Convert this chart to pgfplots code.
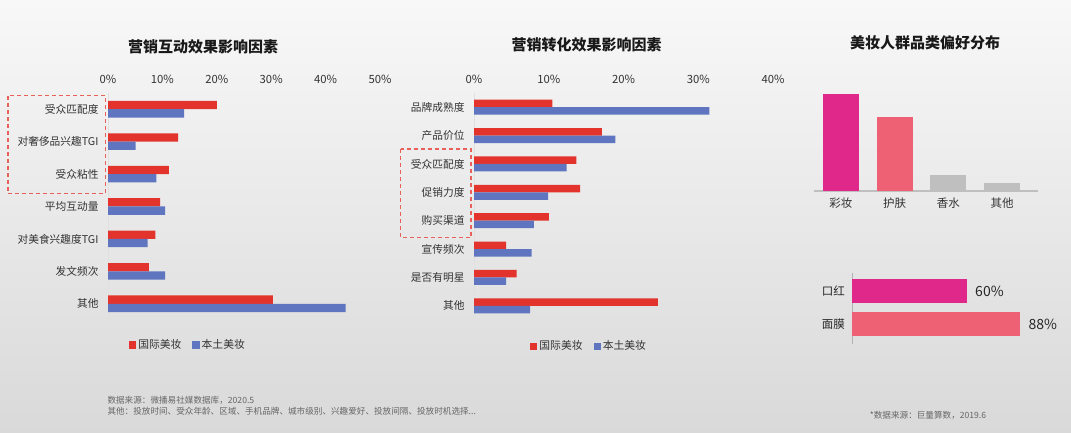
\documentclass[border=0pt]{standalone}
\usepackage{fontspec}
\setmainfont{Noto Sans CJK SC}
\usepackage{pgfplots}
\pgfplotsset{compat=1.18}

\definecolor{cRed}{HTML}{E2342C}
\definecolor{cBlue}{HTML}{5F75BF}
\definecolor{cMag}{HTML}{E0288A}
\definecolor{cPink}{HTML}{EE6074}
\definecolor{cGrey}{HTML}{BFBFBF}
\definecolor{txt}{HTML}{333333}
\definecolor{note}{HTML}{666666}
\definecolor{boxred}{HTML}{E8605A}
\definecolor{bgTop}{HTML}{F8F8F8}
\definecolor{bgBot}{HTML}{D9D9D9}

\pgfplotsset{
  hbars/.style={
    scale only axis, xbar, xmin=0, ymin=0.5,
    y dir=reverse,
    axis x line*=top, axis y line*=left,
    x axis line style={draw=none},
    y axis line style={draw=black!12, line width=0.8pt},
    major tick length=0pt,
    xtick distance=10,
    xticklabel={\pgfmathprintnumber{\tick}\%},
    /pgf/number format/assume math mode=true,
    xticklabel style={font=\fontsize{11.3}{13}\selectfont, text=txt, yshift=6pt},
    yticklabel style={font=\fontsize{10.7}{12}\selectfont, text=txt, xshift=-6pt},
    legend columns=2,
    legend style={draw=none, fill=none, font=\fontsize{10.8}{12}\selectfont, text=txt,
      /tikz/every even column/.append style={column sep=9pt}},
    clip=false,
  },
  redsq/.style={legend image code/.code={\fill[cRed] (0pt,-3.6pt) rectangle (7.2pt,3.6pt);}},
  bluesq/.style={legend image code/.code={\fill[cBlue] (0pt,-3.6pt) rectangle (7.2pt,3.6pt);}},
}

\begin{document}
\begin{tikzpicture}
\shade[top color=bgTop, bottom color=bgBot] (0pt,0pt) rectangle (1071pt,433pt);
\path[use as bounding box] (0pt,0pt) rectangle (1071pt,433pt);

% titles
\node[font=\fontsize{15}{17}\selectfont\bfseries, text=black!90] at (203pt,386.3pt) {营销互动效果影响因素};
\node[font=\fontsize{15}{17}\selectfont\bfseries, text=black!90] at (586.7pt,388pt) {营销转化效果影响因素};
\node[font=\fontsize{15}{17}\selectfont\bfseries, text=black!90] at (925pt,390.3pt) {美妆人群品类偏好分布};

% panel 1
\begin{axis}[hbars, at={(108pt,113pt)}, anchor=south west, width=272pt, height=227pt,
  xmax=50, ymax=7.5, bar width=8.3pt,
  ytick={1,...,7},
  yticklabels={受众匹配度,对奢侈品兴趣TGI,受众粘性,平均互动量,对美食兴趣度TGI,发文频次,其他},
  legend style={at={(0.294,-0.11)}, anchor=center}]
\addplot[fill=cRed, draw=none, bar shift=4.15pt, redsq] coordinates {
  (20.0,1) (12.9,2) (11.2,3) (9.6,4) (8.7,5) (7.5,6) (30.3,7)};
\addlegendentry{国际美妆}
\addplot[fill=cBlue, draw=none, bar shift=-4.15pt, bluesq] coordinates {
  (14.0,1) (5.1,2) (8.9,3) (10.5,4) (7.3,5) (10.5,6) (43.7,7)};
\addlegendentry{本土美妆}
\end{axis}

% panel 2
\begin{axis}[hbars, at={(474pt,113pt)}, anchor=south west, width=299pt, height=227pt,
  xmax=40, ymax=8.5, bar width=7.5pt,
  ytick={1,...,8},
  yticklabels={品牌成熟度,产品价位,受众匹配度,促销力度,购买渠道,宣传频次,是否有明星,其他},
  legend style={at={(0.385,-0.115)}, anchor=center}]
\addplot[fill=cRed, draw=none, bar shift=3.75pt, redsq] coordinates {
  (10.5,1) (17.1,2) (13.7,3) (14.2,4) (10.0,5) (4.3,6) (5.7,7) (24.6,8)};
\addlegendentry{国际美妆}
\addplot[fill=cBlue, draw=none, bar shift=-3.75pt, bluesq] coordinates {
  (31.5,1) (18.9,2) (12.4,3) (9.9,4) (8.0,5) (7.7,6) (4.3,7) (7.5,8)};
\addlegendentry{本土美妆}
\end{axis}

% dashed highlight boxes
\draw[draw=boxred, line width=1.2pt, dash pattern=on 4pt off 3pt] (8pt,337.3pt) rectangle (105.7pt,239.7pt);
\draw[draw=boxred, line width=1.2pt, dash pattern=on 4pt off 3pt] (400.7pt,284pt) rectangle (471pt,195.3pt);

% panel 3
\begin{axis}[scale only axis, at={(814pt,242pt)}, anchor=south west, width=224pt, height=100pt,
  ybar, bar width=36pt, xmin=0.5, xmax=4.67, ymin=0, ymax=100,
  axis x line*=bottom, axis y line=none,
  x axis line style={draw=cGrey, line width=1.2pt},
  major tick length=0pt,
  xtick={1,2,3,4}, xticklabels={彩妆,护肤,香水,其他},
  xticklabel style={font=\fontsize{11.5}{13}\selectfont, text=txt, yshift=-3pt},
  clip=false]
\addplot[fill=cMag, draw=none, bar shift=0pt] coordinates {(1,97)};
\addplot[fill=cPink, draw=none, bar shift=0pt] coordinates {(2,74)};
\addplot[fill=cGrey, draw=none, bar shift=0pt] coordinates {(3,16)};
\addplot[fill=cGrey, draw=none, bar shift=0pt] coordinates {(4,8)};
\end{axis}

% panel 4
\begin{axis}[scale only axis, at={(852.3pt,89pt)}, anchor=south west, width=200pt, height=71pt,
  xbar, bar width=23.3pt, y dir=reverse,
  xmin=0, xmax=104.9, ymin=0.455, ymax=2.606,
  axis y line*=left, axis x line=none,
  y axis line style={draw=black!30, line width=1pt},
  major tick length=0pt,
  ytick={1,2}, yticklabels={口红,面膜},
  yticklabel style={font=\fontsize{11.5}{13}\selectfont, text=black!85, xshift=-4pt},
  /pgf/number format/assume math mode=true,
  point meta=x,
  nodes near coords={\pgfmathprintnumber{\pgfplotspointmeta}\%},
  nodes near coords style={anchor=west, font=\fontsize{14}{16}\selectfont, text=black!85, xshift=5pt},
  clip=false]
\addplot[fill=cMag, draw=none, bar shift=0pt] coordinates {(60,1)};
\addplot[fill=cPink, draw=none, bar shift=0pt] coordinates {(88,2)};
\end{axis}

% source notes
\node[anchor=west, font=\fontsize{8.6}{10}\selectfont, text=note] at (104pt,32.3pt) {数据来源：微播易社媒数据库，2020.5};
\node[anchor=west, font=\fontsize{8.6}{10}\selectfont, text=note] at (104pt,21.3pt) {其他：投放时间、受众年龄、区域、手机品牌、城市级别、兴趣爱好、投放间隔、投放时机选择...};
\node[font=\fontsize{8.6}{10}\selectfont, text=note] at (928pt,18pt) {*数据来源：巨量算数，2019.6};
\end{tikzpicture}
\end{document}
